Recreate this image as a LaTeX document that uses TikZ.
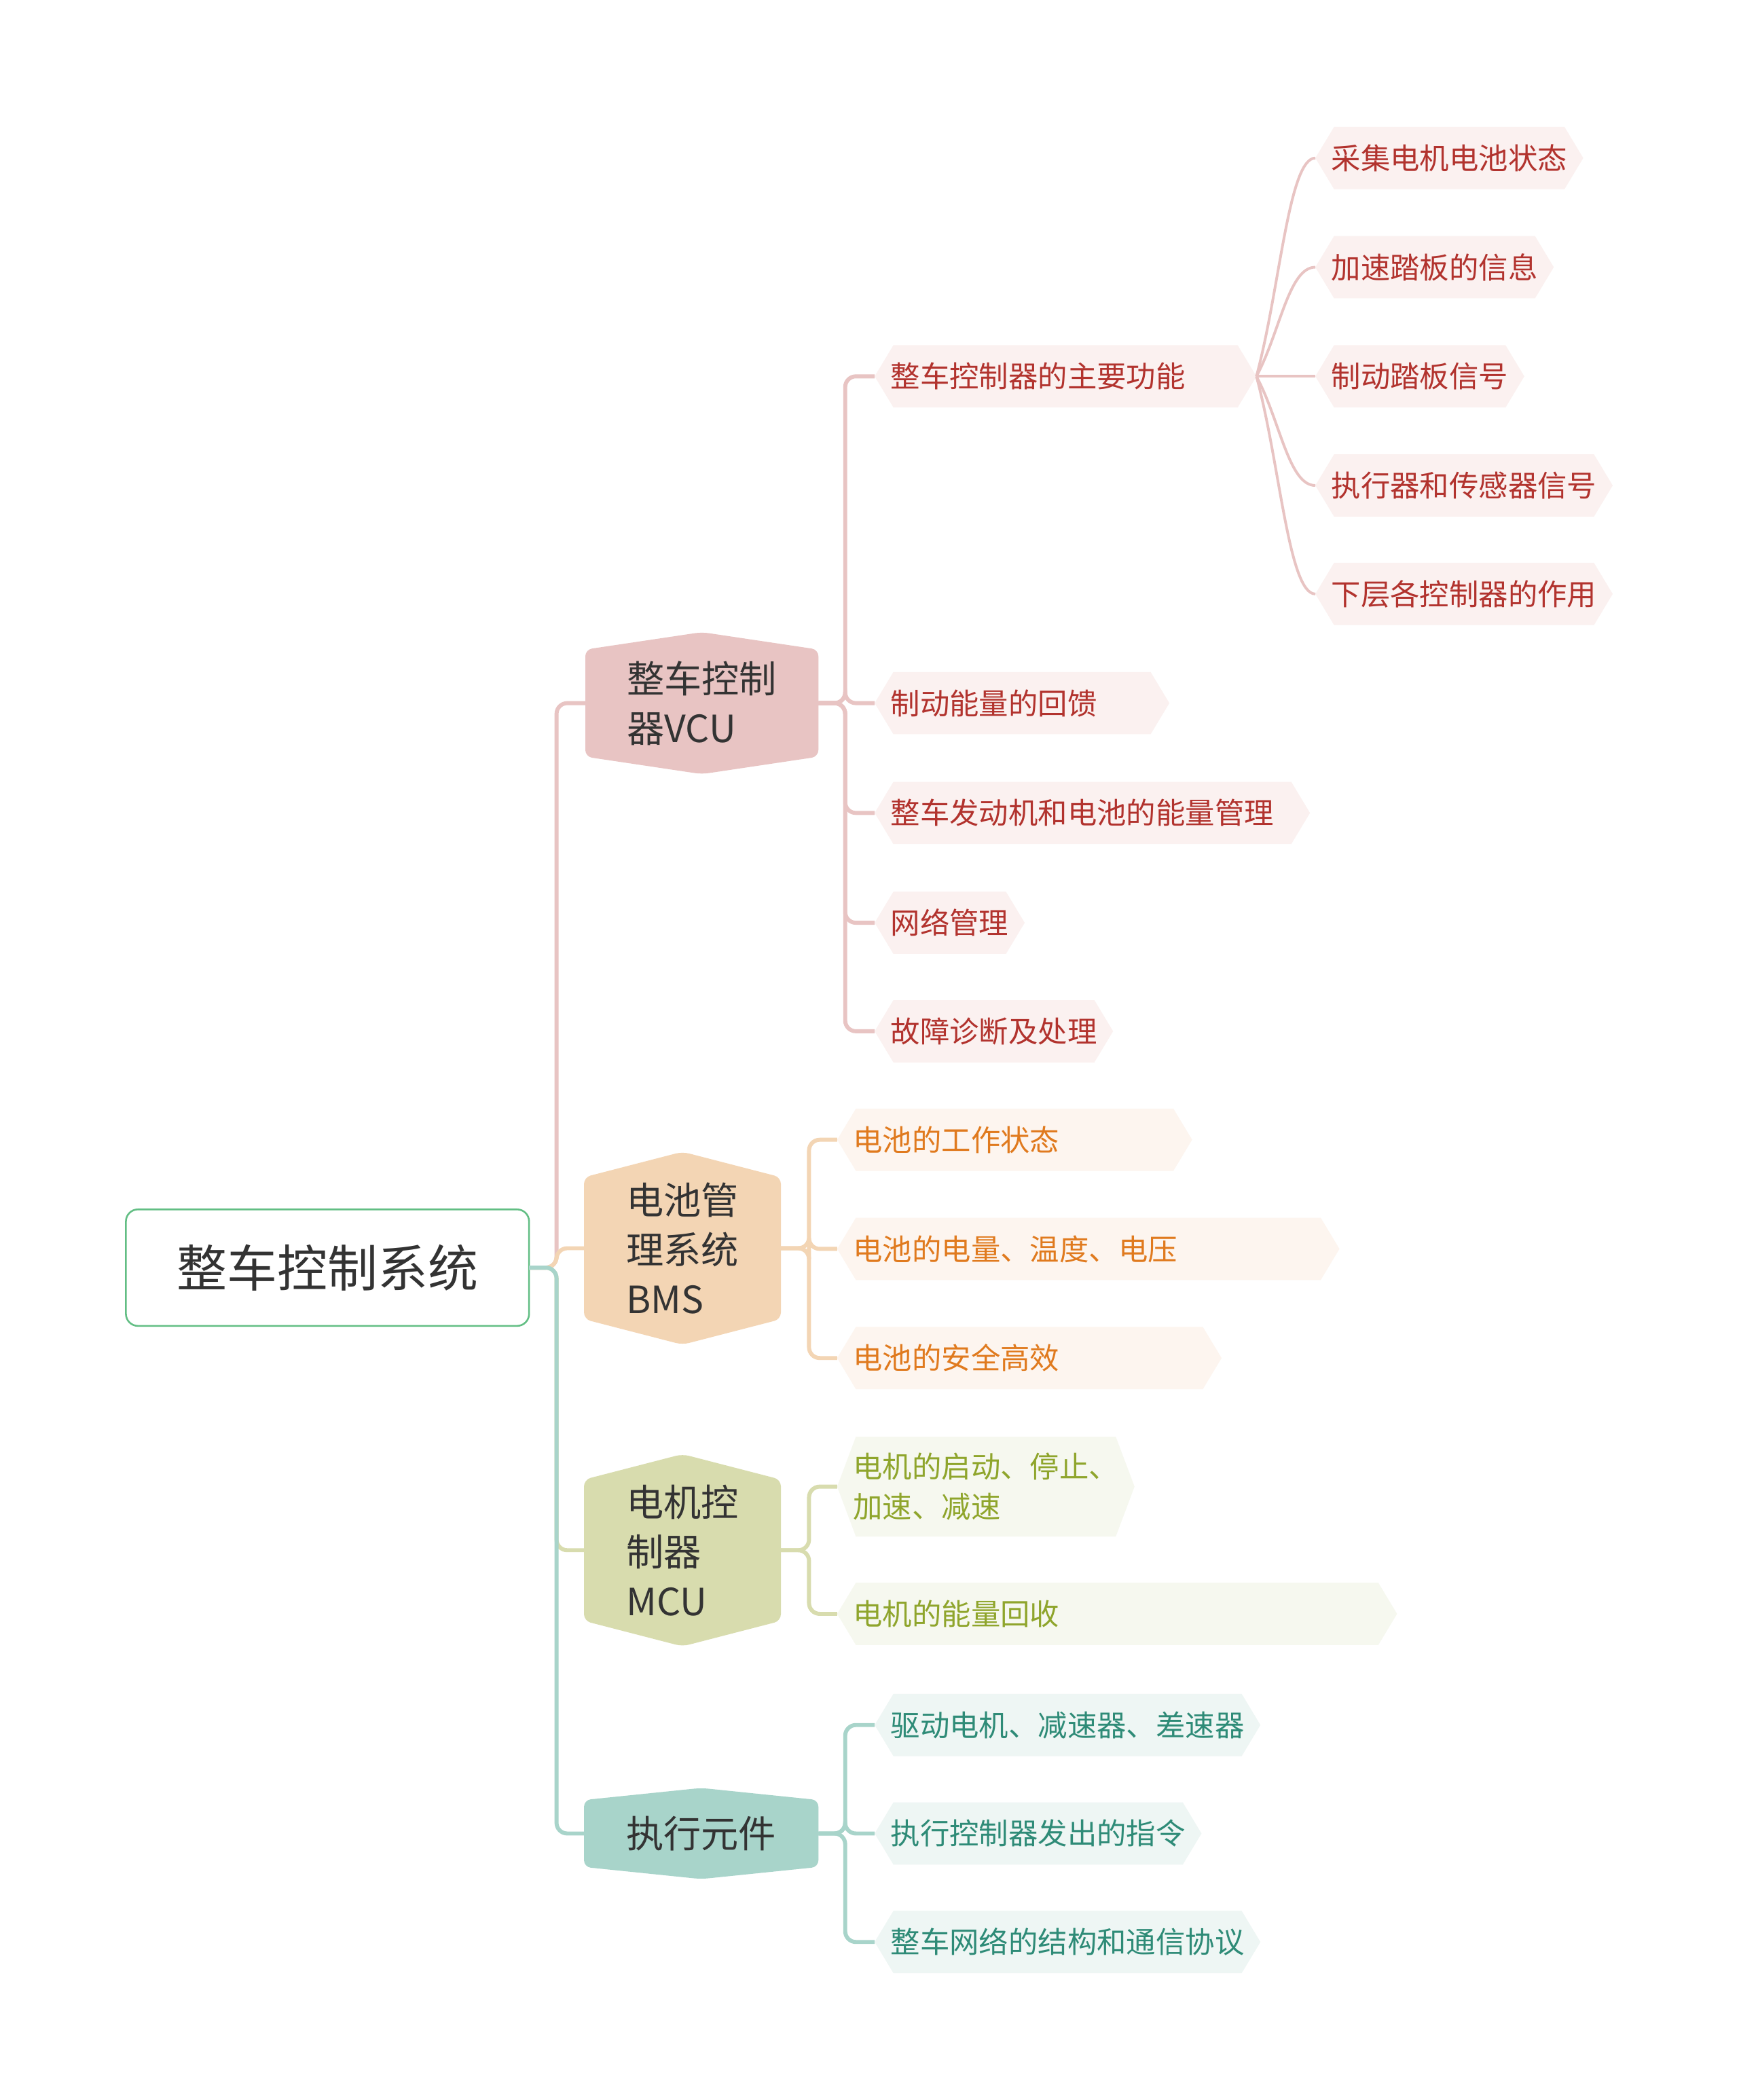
\documentclass[tikz,border=0pt]{standalone}
\usepackage{fontspec}
\usepackage{xcolor}
\usepackage{tikz}
\usetikzlibrary{backgrounds,calc}
\newfontfamily\cjk{Noto Sans CJK SC}

\definecolor{rootline}{HTML}{62BE84}
\definecolor{textdark}{HTML}{333333}
\definecolor{vcufill}{HTML}{E8C4C3}
\definecolor{vculeaf}{HTML}{FBF1F0}
\definecolor{vcutext}{HTML}{B2332E}
\definecolor{bmsfill}{HTML}{F3D5B4}
\definecolor{bmsleaf}{HTML}{FDF5EF}
\definecolor{bmstext}{HTML}{E07A1E}
\definecolor{mcufill}{HTML}{D8DCAE}
\definecolor{mculeaf}{HTML}{F6F8EF}
\definecolor{mcutext}{HTML}{8FA52C}
\definecolor{exefill}{HTML}{A8D4CA}
\definecolor{exeleaf}{HTML}{EEF6F4}
\definecolor{exetext}{HTML}{2E8B77}

\begin{document}
\begin{tikzpicture}[x=1pt, y=-1pt,
  rootbox/.style={draw=rootline, line width=1.3pt, rounded corners=9pt, outer sep=0pt, minimum width=301pt, minimum height=87pt, font=\cjk\fontsize{37.5}{45}\selectfont, text=textdark},
  hexbox/.style={inner sep=0pt, outer sep=0pt, align=left, font=\cjk\fontsize{28}{37}\selectfont, text=textdark},
  item/.style={anchor=west, inner xsep=12pt, inner ysep=0pt, outer sep=0pt, minimum height=46.5pt, align=left, font=\cjk\fontsize{22}{29.6}\selectfont},
  vcuitem/.style={item, text=vcutext},
  bmsitem/.style={item, text=bmstext},
  mcuitem/.style={item, text=mcutext},
  exeitem/.style={item, text=exetext},
  link/.style={line width=3pt, rounded corners=8pt},
  twig/.style={line width=2pt}]
  \node[rootbox] (root) at (244.5,946.5) {整车控制系统};
  % main branches
  \node[hexbox, minimum width=174pt, minimum height=106pt] (vcu) at (524,525) {整车控制\\器VCU};
  \node[hexbox, minimum width=147pt, minimum height=144pt] (bms) at (509.5,932) {电池管\\理系统\\BMS};
  \node[hexbox, minimum width=147pt, minimum height=143.5pt] (mcu) at (509.5,1157.5) {电机控\\制器\\MCU};
  \node[hexbox, minimum width=175pt, minimum height=68pt] (exe) at (523.5,1369) {执行元件};
  % VCU
  \node[vcuitem, text width=261pt] (v1) at (653,281) {整车控制器的主要功能};
  \node[vcuitem, text width=196pt] (v2) at (653,525) {制动能量的回馈};
  \node[vcuitem, text width=301pt] (v3) at (653,607) {整车发动机和电池的能量管理};
  \node[vcuitem, text width=88pt] (v4) at (653,689) {网络管理};
  \node[vcuitem, text width=154pt] (v5) at (653,770) {故障诊断及处理};
  \node[vcuitem, text width=176pt] (w1) at (982,118) {采集电机电池状态};
  \node[vcuitem, text width=154pt] (w2) at (982,199.5) {加速踏板的信息};
  \node[vcuitem, text width=132pt] (w3) at (982,281) {制动踏板信号};
  \node[vcuitem, text width=198pt] (w4) at (982,362.5) {执行器和传感器信号};
  \node[vcuitem, text width=198pt] (w5) at (982,443.5) {下层各控制器的作用};
  % BMS
  \node[bmsitem, text width=241pt] (b1) at (625,851) {电池的工作状态};
  \node[bmsitem, text width=351pt] (b2) at (625,932.5) {电池的电量、温度、电压};
  \node[bmsitem, text width=263pt] (b3) at (625,1014) {电池的安全高效};
  % MCU
  \node[mcuitem, text width=198pt, minimum height=74.6pt] (m1) at (625,1110) {电机的启动、停止、\\加速、减速};
  \node[mcuitem, text width=394pt] (m2) at (625,1205) {电机的能量回收};
  % actuators
  \node[exeitem, text width=264pt] (e1) at (653,1288) {驱动电机、减速器、差速器};
  \node[exeitem, text width=220pt] (e2) at (653,1369) {执行控制器发出的指令};
  \node[exeitem, text width=264pt] (e3) at (653,1450) {整车网络的结构和通信协议};

  \begin{scope}[on background layer]
    \fill[white] (0,0) rectangle (1298,1568);
    \foreach \n/\d/\c in {vcu/13/vcufill, bms/19/bmsfill, mcu/19/mcufill, exe/9/exefill}
      \fill[\c, rounded corners=5pt] (\n.north) -- ([shift={(0,\d)}]\n.north east) -- ([shift={(0,-\d)}]\n.south east)
        -- (\n.south) -- ([shift={(0,-\d)}]\n.south west) -- ([shift={(0,\d)}]\n.north west) -- cycle;
    \foreach \n/\c in {v1/vculeaf, v2/vculeaf, v3/vculeaf, v4/vculeaf, v5/vculeaf,
                       w1/vculeaf, w2/vculeaf, w3/vculeaf, w4/vculeaf, w5/vculeaf,
                       b1/bmsleaf, b2/bmsleaf, b3/bmsleaf, m1/mculeaf, m2/mculeaf,
                       e1/exeleaf, e2/exeleaf, e3/exeleaf}
      \fill[\c] (\n.west) -- ([shift={(14,0)}]\n.north west) -- ([shift={(-14,0)}]\n.north east)
        -- (\n.east) -- ([shift={(-14,0)}]\n.south east) -- ([shift={(14,0)}]\n.south west) -- cycle;
  \end{scope}

  \draw[link, draw=vcufill] (root.east) -- ++(20.5,0) |- (vcu.west);
  \draw[link, draw=bmsfill] (root.east) -- ++(20.5,0) |- (bms.west);
  \draw[link, draw=mcufill] (root.east) -- ++(20.5,0) |- (mcu.west);
  \draw[link, draw=exefill] (root.east) -- ++(20.5,0) |- (exe.west);

  \foreach \k in {1,...,5}
    \draw[link, draw=vcufill] (vcu.east) -- ++(20,0) |- (v\k.west);
  \foreach \k in {1,...,5}
    \draw[twig, draw=vcufill] (v1.east) .. controls ($(v1.east)!0.4!(w\k.west)$) and +(-20,0) .. (w\k.west);
  \foreach \k in {1,2,3}
    \draw[link, draw=bmsfill] (bms.east) -- ++(21,0) |- (b\k.west);
  \foreach \k in {1,2}
    \draw[link, draw=mcufill] (mcu.east) -- ++(21,0) |- (m\k.west);
  \foreach \k in {1,2,3}
    \draw[link, draw=exefill] (exe.east) -- ++(20,0) |- (e\k.west);
\end{tikzpicture}
\end{document}
